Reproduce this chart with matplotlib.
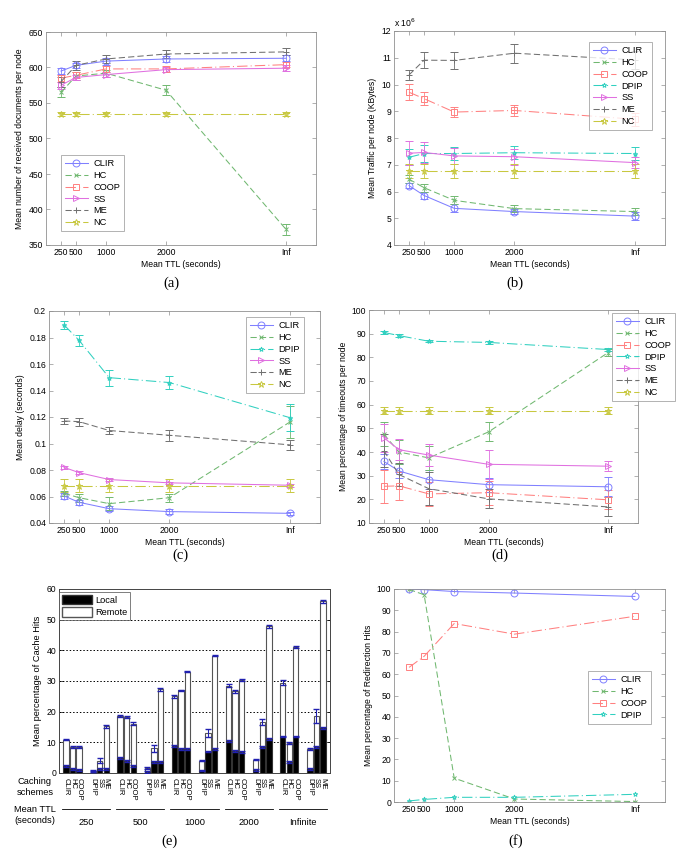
import matplotlib
matplotlib.use("Agg")
import matplotlib.pyplot as plt
import numpy as np
from matplotlib.patches import Patch
from matplotlib.lines import Line2D

plt.rcParams['font.family'] = ['Liberation Sans', 'DejaVu Sans']

W, H = 685, 868

# ---------------- data ----------------
TTL_X = [250, 500, 1000, 2000, 4000]
TTL_LABELS = ['250', '500', '1000', '2000', 'Inf']

# (a) received documents
a_CLIR = [595, 603, 609, 612, 613]
a_HC = [565, 588, 592, 568, 372]
a_COOP = [585, 589, 598, 598, 604]
a_SS = [575, 586, 590, 597, 599]
a_ME = [580, 603, 612, 619, 622]
a_NC = [535, 535, 535, 535, 535]
a_err_CLIR = [4, 4, 5, 4, 4]
a_err_HC = [7, 5, 5, 7, 8]
a_err_COOP = [5, 4, 4, 4, 4]
a_err_SS = [5, 4, 4, 4, 4]
a_err_ME = [7, 6, 6, 5, 5]
a_err_NC = [3, 3, 3, 3, 3]

# (b) traffic (x 10^6 KBytes)
b_CLIR = [6.22, 5.85, 5.37, 5.25, 5.08]
b_HC = [6.46, 6.14, 5.67, 5.36, 5.25]
b_COOP = [9.71, 9.47, 8.97, 9.03, 8.70]
b_DPIP = [7.28, 7.42, 7.42, 7.45, 7.42]
b_SS = [7.43, 7.46, 7.33, 7.30, 7.08]
b_ME = [10.36, 10.91, 10.90, 11.17, 10.92]
b_NC = [6.77, 6.77, 6.77, 6.77, 6.77]
b_err_CLIR = [0.10, 0.12, 0.15, 0.10, 0.15]
b_err_HC = [0.15, 0.15, 0.15, 0.12, 0.12]
b_err_COOP = [0.30, 0.25, 0.20, 0.22, 0.25]
b_err_DPIP = [0.30, 0.30, 0.25, 0.25, 0.25]
b_err_SS = [0.45, 0.40, 0.30, 0.30, 0.20]
b_err_ME = [0.20, 0.30, 0.32, 0.35, 0.35]
b_err_NC = [0.25, 0.25, 0.25, 0.25, 0.25]

# (c) delay
c_CLIR = [0.0604, 0.0556, 0.0508, 0.0486, 0.0473]
c_HC = [0.0624, 0.0591, 0.0546, 0.0591, 0.1162]
c_DPIP = [0.1895, 0.1778, 0.1497, 0.1460, 0.1195]
c_SS = [0.0820, 0.0780, 0.0728, 0.0703, 0.0685]
c_ME = [0.1170, 0.1165, 0.1098, 0.1062, 0.0990]
c_NC = [0.0683, 0.0683, 0.0683, 0.0683, 0.0683]
c_err_CLIR = [0.002, 0.002, 0.002, 0.002, 0.001]
c_err_HC = [0.002, 0.003, 0.005, 0.003, 0.012]
c_err_DPIP = [0.003, 0.004, 0.006, 0.005, 0.010]
c_err_SS = [0.001, 0.001, 0.001, 0.001, 0.001]
c_err_ME = [0.002, 0.003, 0.003, 0.004, 0.004]
c_err_NC = [0.005, 0.005, 0.005, 0.005, 0.005]

# (d) timeouts
d_CLIR = [36.0, 32.0, 28.3, 26.2, 25.3]
d_HC = [47.5, 40.0, 37.5, 48.5, 82.0]
d_COOP = [25.5, 25.7, 22.3, 22.8, 19.8]
d_DPIP = [90.5, 89.2, 86.8, 86.3, 83.3]
d_SS = [46.0, 41.0, 38.7, 34.8, 34.0]
d_ME = [40.5, 30.5, 24.5, 20.2, 16.8]
d_NC = [57.5, 57.5, 57.5, 57.5, 57.5]
d_err_CLIR = [3, 3, 4, 3, 4]
d_err_HC = [5, 5, 5, 4, 1.5]
d_err_COOP = [7, 6, 5, 5, 4]
d_err_DPIP = [0.5, 0.5, 0.5, 0.5, 0.5]
d_err_SS = [6, 4.5, 4.5, 6, 2]
d_err_ME = [7, 5, 7, 4, 4]
d_err_NC = [1.5, 1.5, 1.5, 1.5, 1.5]

# (e) cache hits
e_schemes = ['CLIR', 'HC', 'COOP', 'DPIP', 'SS', 'ME']
e_groups = ['250', '500', '1000', '2000', 'Infinite']
e_total = [
    [10.9, 8.5, 8.4, 0.8, 4.0, 15.3],
    [18.6, 18.3, 16.1, 1.6, 8.0, 27.3],
    [25.0, 27.0, 33.0, 4.0, 13.2, 38.3],
    [28.5, 26.6, 30.3, 4.4, 16.6, 47.8],
    [29.5, 9.8, 41.0, 7.8, 18.5, 56.0],
]
e_local = [
    [2.3, 1.4, 1.0, 0.1, 1.3, 1.3],
    [5.0, 4.0, 2.4, 0.3, 3.7, 3.5],
    [8.8, 7.7, 7.7, 0.8, 7.0, 7.8],
    [10.3, 7.3, 6.8, 1.0, 8.5, 11.0],
    [11.9, 3.5, 11.9, 1.3, 8.5, 14.8],
]
e_err_total = [
    [0.2, 0.2, 0.3, 0.3, 0.8, 0.5],
    [0.2, 0.3, 0.4, 0.4, 1.0, 0.4],
    [0.5, 0.2, 0.2, 0.1, 1.3, 0.2],
    [0.6, 0.5, 0.4, 0.2, 0.9, 0.4],
    [0.9, 0.2, 0.4, 0.2, 2.3, 0.5],
]

# (f) redirection hits
f_CLIR = [100.0, 99.7, 98.8, 98.1, 96.5]
f_HC = [99.8, 97.3, 11.2, 1.4, 0.2]
f_COOP = [63.2, 68.4, 83.8, 78.8, 87.2]
f_DPIP = [0.5, 1.2, 2.2, 2.2, 3.6]

# ---------------- styles ----------------
STY = {
    'CLIR': dict(color='#8080ff', ls='-', marker='o', ms=5),
    'HC': dict(color='#70b870', ls='--', marker='x', ms=2.5),
    'COOP': dict(color='#ff8080', ls='-.', marker='s', ms=5),
    'DPIP': dict(color='#30d0c0', ls='-.', marker='*', ms=3.5),
    'SS': dict(color='#e070e0', ls='-', marker='>', ms=5),
    'ME': dict(color='#707070', ls='--', marker='+', ms=5),
    'NC': dict(color='#c8c840', ls='-.', marker='*', ms=5),
}

FS = 6.2


def fig_rect(l, r, t, b):
    return [l / W, 1 - b / H, (r - l) / W, (b - t) / H]


def dash_of(ls):
    if ls == '--':
        return (6, 3)
    if ls == '-.':
        return (10, 3, 1, 3)
    return (None, None)


def style_axes(ax):
    for s in ax.spines.values():
        s.set_color('#909090')
        s.set_linewidth(0.6)
    ax.tick_params(direction='in', length=3, width=0.5, color='#909090',
                   labelsize=FS, top=True, right=True, pad=2)


def line_panel(ax, series, ylim, yticks, ylabel, legend_xy, yfmt=None):
    for name, y, e in series:
        st = STY[name]
        ax.errorbar(TTL_X, y, yerr=e, color=st['color'], ls=st['ls'], lw=0.75,
                    marker=st['marker'], ms=st['ms'], mfc='none', mew=0.7,
                    elinewidth=0.6, capsize=3, capthick=0.6, label=name,
                    dashes=dash_of(st['ls']))
    ax.set_xlim(0, 4500)
    ax.set_xticks(TTL_X)
    ax.set_xticklabels(TTL_LABELS)
    ax.set_ylim(*ylim)
    ax.set_yticks(yticks)
    if yfmt:
        ax.set_yticklabels([yfmt(v) for v in yticks])
    ax.set_xlabel('Mean TTL (seconds)', fontsize=FS, labelpad=2)
    ax.set_ylabel(ylabel, fontsize=FS, labelpad=3)
    style_axes(ax)
    handles = []
    for name, y, e in series:
        st = STY[name]
        handles.append(Line2D([], [], color=st['color'], ls=st['ls'], lw=0.75,
                              marker=st['marker'], ms=st['ms'], mfc='none', mew=0.7,
                              dashes=dash_of(st['ls'])))
    leg = ax.legend(handles, [s[0] for s in series], loc='upper left',
                    bbox_to_anchor=(legend_xy[0] / W, 1 - legend_xy[1] / H),
                    bbox_transform=fig.transFigure, fontsize=FS + 0.5,
                    frameon=True, fancybox=False, edgecolor='#909090',
                    handlelength=2.4, borderpad=0.45, labelspacing=0.3,
                    handletextpad=0.6, borderaxespad=0)
    leg.get_frame().set_linewidth(0.6)
    return leg


fig = plt.figure(figsize=(W / 100, H / 100), dpi=100)

# (a)
ax_a = fig.add_axes(fig_rect(46, 316, 32, 245))
line_panel(ax_a, [('CLIR', a_CLIR, a_err_CLIR), ('HC', a_HC, a_err_HC),
                  ('COOP', a_COOP, a_err_COOP), ('SS', a_SS, a_err_SS),
                  ('ME', a_ME, a_err_ME), ('NC', a_NC, a_err_NC)],
           (350, 650), range(350, 651, 50),
           'Mean number of received documents per node', (61, 155))

# (b)
ax_b = fig.add_axes(fig_rect(394, 665, 31, 245))
line_panel(ax_b, [('CLIR', b_CLIR, b_err_CLIR), ('HC', b_HC, b_err_HC),
                  ('COOP', b_COOP, b_err_COOP), ('DPIP', b_DPIP, b_err_DPIP),
                  ('SS', b_SS, b_err_SS), ('ME', b_ME, b_err_ME),
                  ('NC', b_NC, b_err_NC)],
           (4, 12), range(4, 13), 'Mean Traffic per node (KBytes)', (589, 42))
ax_b.text(0.0, 1.01, r'x 10$^6$', transform=ax_b.transAxes, fontsize=FS,
          ha='left', va='bottom')

# (c)
ax_c = fig.add_axes(fig_rect(49, 320, 311, 523))
line_panel(ax_c, [('CLIR', c_CLIR, c_err_CLIR), ('HC', c_HC, c_err_HC),
                  ('DPIP', c_DPIP, c_err_DPIP), ('SS', c_SS, c_err_SS),
                  ('ME', c_ME, c_err_ME), ('NC', c_NC, c_err_NC)],
           (0.04, 0.2), np.round(np.arange(0.04, 0.201, 0.02), 2),
           'Mean delay (seconds)', (246, 317), yfmt=lambda v: ('%g' % v))

# (d)
ax_d = fig.add_axes(fig_rect(369, 638, 310, 523))
line_panel(ax_d, [('CLIR', d_CLIR, d_err_CLIR), ('HC', d_HC, d_err_HC),
                  ('COOP', d_COOP, d_err_COOP), ('DPIP', d_DPIP, d_err_DPIP),
                  ('SS', d_SS, d_err_SS), ('ME', d_ME, d_err_ME),
                  ('NC', d_NC, d_err_NC)],
           (10, 100), range(10, 101, 10),
           'Mean percentage of timeouts per node', (612, 313))

# (f)
ax_f = fig.add_axes(fig_rect(394, 665, 589, 802))
line_panel(ax_f, [('CLIR', f_CLIR, None), ('HC', f_HC, None),
                  ('COOP', f_COOP, None), ('DPIP', f_DPIP, None)],
           (0, 100), range(0, 101, 10),
           'Mean percentage of Redirection Hits', (588, 671))

# (e)
ax_e = fig.add_axes(fig_rect(59, 330, 589, 773))
GROUP_STEP = 8.27
OFFSETS = [0, 1, 2, 4.15, 5.15, 6.15]
BW = 0.82
for g in range(len(e_groups)):
    xs = [g * GROUP_STEP + o for o in OFFSETS]
    tot = np.array(e_total[g])
    loc = np.array(e_local[g])
    ax_e.bar(xs, tot - loc, bottom=loc, width=BW, color='white',
             edgecolor='#555555', linewidth=0.8, zorder=3)
    ax_e.bar(xs, loc, width=BW, color='black', edgecolor='#333333',
             linewidth=0.8, zorder=3)
    ax_e.errorbar(xs, tot, yerr=e_err_total[g], fmt='none', ecolor='#2020b0',
                  elinewidth=0.8, capsize=2.5, capthick=1.0, zorder=4)
    ax_e.errorbar(xs, loc, yerr=[0.3] * 6, fmt='none', ecolor='#2020b0',
                  elinewidth=0.8, capsize=2.5, capthick=1.0, zorder=4)
ax_e.set_xlim(-1.07, 4 * GROUP_STEP + 6.15 + 1.07)
ax_e.set_ylim(0, 60)
ax_e.set_yticks(range(0, 61, 10))
ax_e.set_xticks([])
for yv in range(10, 60, 10):
    ax_e.axhline(yv, color='black', ls=(0, (1.5, 2)), lw=0.7, zorder=1)
for s in ax_e.spines.values():
    s.set_color('#444444')
    s.set_linewidth(0.7)
ax_e.tick_params(direction='in', length=3, width=0.5, labelsize=FS, right=True, pad=2)
ax_e.set_ylabel('Mean percentage of Cache Hits', fontsize=FS + 0.5, labelpad=3)
leg_e = ax_e.legend([Patch(facecolor='black', edgecolor='#333333'),
                     Patch(facecolor='white', edgecolor='#555555')],
                    ['Local', 'Remote'], loc='upper left',
                    bbox_to_anchor=(59 / W, 1 - 592 / H), bbox_transform=fig.transFigure,
                    fontsize=FS + 0.5, fancybox=False, edgecolor='#444444',
                    handlelength=3.2, handleheight=1.2, borderpad=0.3,
                    labelspacing=0.3, handletextpad=0.4, borderaxespad=0)
leg_e.get_frame().set_linewidth(0.6)

# scheme labels under bars
for g in range(len(e_groups)):
    for k, name in enumerate(e_schemes):
        xv = g * GROUP_STEP + OFFSETS[k]
        ax_e.text(xv, -1.5, name, rotation=270, ha='center', va='top',
                  fontsize=5.5, clip_on=False)
    x0 = g * GROUP_STEP - 0.6
    x1 = g * GROUP_STEP + 6.15 + 0.6
    ax_e.plot([x0, x1], [-11.6, -11.6], color='black', lw=0.6, clip_on=False)
    ax_e.text((x0 + x1) / 2, -16, e_groups[g], ha='center', va='center',
              fontsize=FS + 0.5, clip_on=False)
fig.text(35 / W, 1 - 787 / H, 'Caching\nschemes', ha='center', va='center',
         fontsize=FS + 0.5, linespacing=1.3)
fig.text(35 / W, 1 - 815 / H, 'Mean TTL\n(seconds)', ha='center', va='center',
         fontsize=FS + 0.5, linespacing=1.3)

# panel captions
for lab, xc, yc in [('(a)', 171, 283), ('(b)', 515, 283), ('(c)', 180, 555),
                    ('(d)', 500, 555), ('(e)', 170, 841), ('(f)', 516, 841)]:
    fig.text(xc / W, 1 - yc / H, lab, ha='center', va='center', fontsize=10.5,
             family='Liberation Serif')

fig.savefig('out.png', dpi=100)
